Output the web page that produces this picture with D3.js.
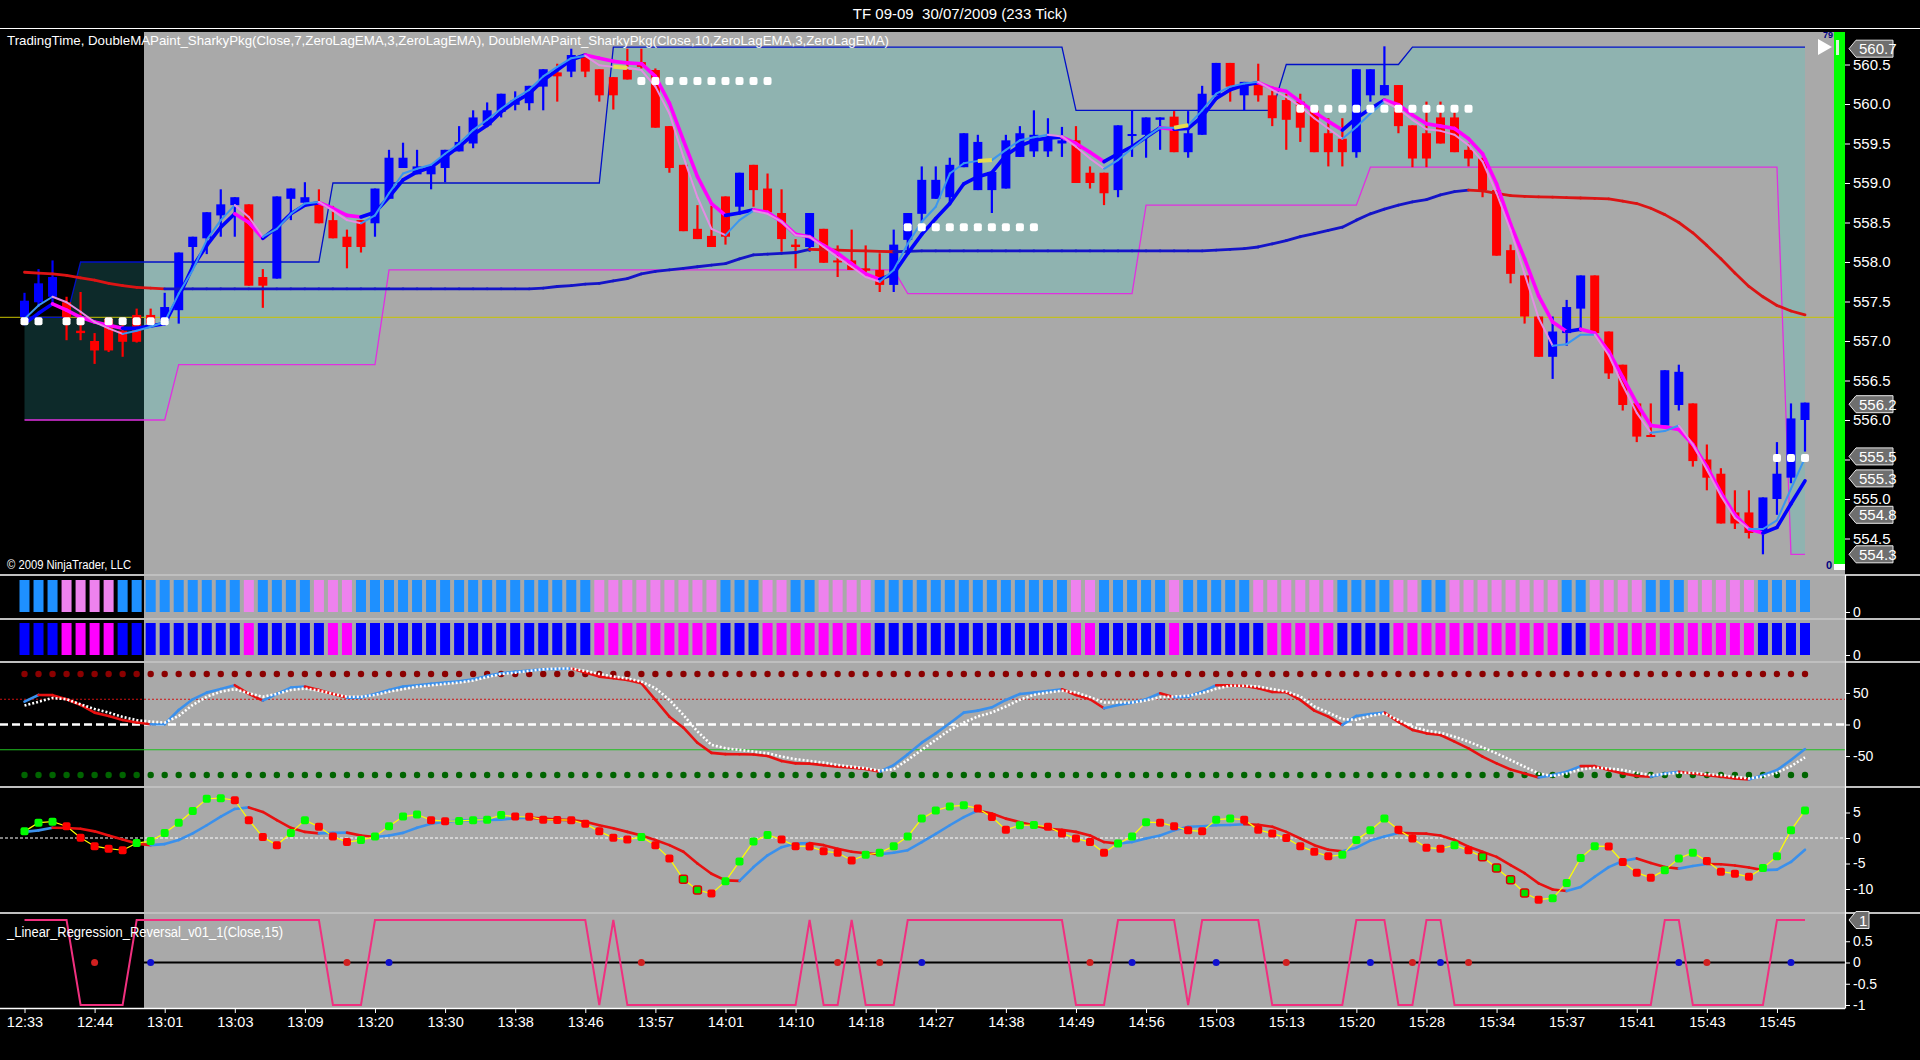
<!DOCTYPE html>
<html>
<head>
<meta charset="utf-8">
<script src="https://cdnjs.cloudflare.com/ajax/libs/d3/7.8.5/d3.min.js"></script>
<style>
  body { margin: 0; background: #000; }
  svg { display: block; font-family: "Liberation Sans", Arial, sans-serif; }
</style>
</head>
<body>
<div id="chart-area"></div>
<script>
// ---- data (bar index 0..127) ----
var timeLabels = ["12:33","12:44","13:01","13:03","13:09","13:20","13:30","13:38","13:46","13:57",
  "14:01","14:10","14:18","14:27","14:38","14:49","14:56","15:03","15:13","15:20",
  "15:28","15:34","15:37","15:41","15:43","15:45"];

var opens = [557.30,557.49,557.56,557.49,557.13,557.00,557.28,557.13,557.33,557.33,
  557.26,557.39,558.19,558.30,558.59,558.72,558.73,557.81,557.79,558.80,
  558.75,558.75,558.53,558.32,558.53,558.49,558.80,559.19,559.11,559.11,
  559.19,559.40,559.50,559.73,559.90,559.99,560.01,560.22,560.40,560.41,
  560.61,560.44,560.34,560.43,560.53,560.43,559.72,559.23,558.42,558.33,
  558.83,558.70,559.23,558.93,558.62,558.22,558.19,558.42,558.02,558.02,
  557.92,557.90,557.71,558.28,558.61,558.80,558.82,559.20,558.91,558.91,
  558.93,559.33,559.40,559.40,559.50,559.54,559.13,559.13,558.91,559.60,
  559.61,559.80,559.84,559.39,559.61,560.11,560.52,560.11,560.26,560.11,
  560.05,560.03,559.92,559.63,559.56,559.39,560.11,560.11,560.24,559.73,
  559.63,559.83,559.83,559.42,559.31,558.91,558.15,557.83,557.31,556.80,
  557.10,557.41,557.83,557.12,556.70,556.21,555.81,555.93,556.19,556.21,
  555.50,555.32,554.83,554.83,554.57,555.00,555.27,556.00];
var highs = [557.61,557.91,558.02,557.56,557.62,557.10,557.30,557.26,557.41,557.41,
  557.61,558.12,558.32,558.63,558.92,558.82,558.73,557.91,558.83,558.93,
  559.01,558.92,558.71,558.41,558.53,558.93,559.42,559.51,559.42,559.21,
  559.42,559.72,559.92,560.02,560.13,560.16,560.23,560.44,560.51,560.70,
  560.64,560.44,560.34,560.70,560.70,560.45,559.72,559.23,558.72,558.71,
  558.83,559.13,559.23,559.12,558.92,558.29,558.62,558.42,558.21,558.41,
  558.21,558.11,558.41,558.62,559.21,559.21,559.32,559.63,559.61,559.14,
  559.61,559.72,559.92,559.82,559.71,559.72,559.21,559.13,559.73,559.92,
  559.83,559.83,559.91,559.91,560.23,560.52,560.52,560.28,560.51,560.22,
  560.13,560.13,559.92,559.82,559.82,560.44,560.44,560.73,560.24,559.73,
  560.03,560.03,559.92,559.50,559.32,558.91,558.22,557.83,557.31,557.31,
  557.52,557.83,557.83,557.12,556.70,556.21,556.21,556.63,556.70,556.21,
  555.69,555.39,555.11,555.11,555.02,555.72,556.21,556.22];
var lows = [557.22,557.43,557.47,557.01,557.01,556.71,556.86,556.80,556.98,557.18,
  557.20,557.22,557.94,558.10,558.32,558.32,557.70,557.42,557.79,558.53,
  558.70,558.49,558.30,557.92,558.12,558.32,558.80,559.19,559.11,558.92,
  559.01,559.40,559.44,559.72,559.83,559.92,559.92,559.92,560.03,560.34,
  560.34,560.03,559.93,560.31,560.45,559.70,559.13,558.39,558.29,558.19,
  558.22,558.63,558.70,558.63,558.13,557.92,558.13,557.99,557.81,557.90,
  557.81,557.62,557.62,558.11,558.51,558.80,558.72,559.20,558.91,558.62,
  558.93,559.33,559.33,559.33,559.33,559.00,558.93,558.72,558.82,559.33,
  559.32,559.42,559.39,559.32,559.61,560.11,560.03,559.92,560.03,559.72,
  559.42,559.52,559.39,559.21,559.21,559.32,560.03,560.11,559.63,559.20,
  559.20,559.50,559.39,559.21,558.82,558.08,557.73,557.22,556.80,556.52,
  556.94,557.12,557.10,556.52,556.12,555.72,555.79,555.93,556.12,555.41,
  555.11,554.69,554.62,554.50,554.30,554.80,555.20,555.60];
var closes = [557.51,557.73,557.81,557.30,557.10,556.88,556.88,556.99,556.99,557.22,
  557.43,558.12,558.32,558.63,558.73,558.82,557.70,557.70,558.83,558.93,
  558.82,558.49,558.30,558.19,558.19,558.93,559.32,559.32,559.21,559.21,
  559.42,559.52,559.83,559.92,560.13,560.05,560.23,560.44,560.35,560.62,
  560.41,560.11,560.11,560.31,560.47,559.70,559.19,558.39,558.29,558.19,
  558.32,559.13,558.91,558.63,558.29,558.19,558.62,557.99,558.00,557.90,
  557.89,557.71,558.22,558.62,559.04,559.04,559.23,559.63,559.52,559.14,
  559.54,559.63,559.61,559.56,559.54,559.00,559.00,558.87,559.73,559.62,
  559.83,559.83,559.39,559.63,560.13,560.52,560.22,560.28,560.11,559.82,
  559.80,559.70,559.39,559.39,559.39,560.44,560.44,560.24,559.72,559.31,
  559.31,559.50,559.39,559.31,558.91,558.08,557.85,557.31,556.80,557.12,
  557.43,557.83,557.10,556.59,556.19,555.79,555.79,556.63,556.61,555.48,
  555.27,554.69,554.69,554.57,555.02,555.32,556.02,556.22];

// DoubleMAPaint (7) thick line and (10) thin line
var ma7 = [557.22,557.35,557.47,557.39,557.30,557.24,557.20,557.16,557.16,557.19,
  557.22,557.56,557.94,558.21,558.44,558.61,558.50,558.30,558.44,558.61,
  558.72,558.75,558.68,558.59,558.57,558.63,558.82,559.04,559.14,559.20,
  559.33,559.46,559.61,559.73,559.90,560.03,560.13,560.30,560.43,560.56,
  560.62,560.58,560.54,560.52,560.51,560.35,560.01,559.54,559.08,558.74,
  558.59,558.62,558.66,558.63,558.51,558.35,558.32,558.21,558.11,557.98,
  557.85,557.78,557.85,558.11,558.35,558.55,558.74,558.99,559.08,559.13,
  559.35,559.47,559.54,559.57,559.58,559.50,559.39,559.27,559.37,559.46,
  559.58,559.70,559.68,559.69,559.84,560.07,560.18,560.24,560.27,560.20,
  560.16,560.03,559.90,559.78,559.67,559.82,559.94,560.05,559.99,559.86,
  559.75,559.72,559.69,559.56,559.37,558.99,558.48,558.04,557.57,557.24,
  557.12,557.15,557.10,556.87,556.54,556.21,555.93,555.91,555.88,555.69,
  555.41,555.08,554.80,554.62,554.57,554.64,554.94,555.23];
var ma10 = [557.28,557.45,557.56,557.49,557.37,557.24,557.16,557.09,557.13,557.18,
  557.24,557.60,557.90,558.28,558.53,558.72,558.57,558.32,558.42,558.61,
  558.74,558.76,558.65,558.53,558.49,558.59,558.87,559.12,559.18,559.23,
  559.37,559.50,559.67,559.80,559.94,560.07,560.18,560.35,560.47,560.58,
  560.61,560.49,560.47,560.46,560.43,560.22,559.88,559.33,558.82,558.42,
  558.34,558.53,558.65,558.61,558.51,558.34,558.32,558.19,558.06,557.94,
  557.81,557.75,557.90,558.23,558.51,558.70,559.12,559.25,559.28,559.29,
  559.42,559.54,559.58,559.61,559.59,559.46,559.31,559.18,559.29,559.44,
  559.58,559.70,559.70,559.73,559.92,560.13,560.22,560.26,560.28,560.18,
  560.09,559.97,559.82,559.69,559.56,559.71,559.88,560.03,559.94,559.80,
  559.68,559.66,559.61,559.48,559.27,558.87,558.40,557.85,557.29,556.94,
  556.96,557.08,557.08,556.82,556.44,556.09,555.84,555.86,555.93,555.69,
  555.37,555.04,554.76,554.62,554.62,554.73,555.13,555.52];
// slow trend average (blue rising / red falling)
var trendMA = [557.87,557.86,557.85,557.83,557.80,557.77,557.73,557.70,557.68,557.67,
  557.66,557.66,557.66,557.66,557.66,557.66,557.66,557.66,557.66,557.66,
  557.66,557.66,557.66,557.66,557.66,557.66,557.66,557.66,557.66,557.66,
  557.66,557.66,557.66,557.66,557.66,557.66,557.66,557.67,557.69,557.70,
  557.72,557.73,557.76,557.79,557.85,557.88,557.90,557.92,557.94,557.96,
  557.98,558.04,558.09,558.10,558.11,558.12,558.16,558.155,558.15,558.145,
  558.14,558.135,558.13,558.135,558.14,558.14,558.14,558.14,558.14,558.14,
  558.14,558.14,558.14,558.14,558.14,558.14,558.14,558.14,558.14,558.14,
  558.14,558.14,558.14,558.14,558.14,558.15,558.16,558.17,558.19,558.23,
  558.27,558.32,558.36,558.40,558.44,558.53,558.61,558.67,558.72,558.76,
  558.79,558.85,558.89,558.91,558.90,558.87,558.84,558.83,558.825,558.82,
  558.815,558.81,558.805,558.80,558.77,558.74,558.68,558.60,558.50,558.37,
  558.21,558.04,557.86,557.69,557.56,557.45,557.38,557.33];
// TradingTime channel: [first bar, level]
var upperSteps = [[0, 557.3], [4, 558.0], [22, 559.0], [42, 560.72], [75, 559.92], [90, 560.5], [99, 560.72]];
var lowerSteps = [[0, 556.0], [11, 556.7], [26, 557.9], [63, 557.6], [80, 558.72], [96, 559.2], [126, 554.3]];
var signalDots = [[0,557.25],[1,557.25],[3,557.25],[4,557.25],[6,557.25],[7,557.25],[8,557.25],[9,557.25],[10,557.25],
  [44,560.29],[45,560.29],[46,560.29],[47,560.29],[48,560.29],[49,560.29],[50,560.29],[51,560.29],[52,560.29],[53,560.29],
  [63,558.44],[64,558.44],[65,558.44],[66,558.44],[67,558.44],[68,558.44],[69,558.44],[70,558.44],[71,558.44],[72,558.44],
  [91,559.94],[92,559.94],[93,559.94],[94,559.94],[95,559.94],[96,559.94],[97,559.94],[98,559.94],[99,559.94],[100,559.94],
  [101,559.94],[102,559.94],[103,559.94],[125,555.52],[126,555.52],[127,555.52]];
var flatMarks = [42, 68, 82];
var priceMarkers = [560.7, 556.2, 555.5, 555.3, 554.8, 554.3];
var priceTicks = [554.5, 555.0, 555.5, 556.0, 556.5, 557.0, 557.5, 558.0, 558.5, 559.0, 559.5, 560.0, 560.5];
var refLevel = 557.3;

// paint panels: 1 = rising colour, 0 = falling colour
var paint10 = [1,1,1,0,0,0,0,1,1,1, 1,1,1,1,1,1,0,1,1,1, 1,0,0,0,1,1,1,1,1,1, 1,1,1,1,1,1,1,1,1,1,
  1,0,0,0,0,0,0,0,0,0, 1,1,1,0,0,1,1,0,0,0, 0,1,1,1,1,1,1,1,1,1, 1,1,1,1,1,0,0,1,1,1,
  1,1,0,1,1,1,1,1,0,0, 0,0,0,0,1,1,1,1,0,0, 1,1,0,0,0,0,0,0,0,0, 1,1,0,0,0,0,1,1,1,0,
  0,0,0,0,1,1,1,1];
var paint7 = [1,1,1,0,0,0,0,1,1,1, 1,1,1,1,1,1,0,1,1,1, 1,1,0,0,1,1,1,1,1,1, 1,1,1,1,1,1,1,1,1,1,
  1,0,0,0,0,0,0,0,0,0, 1,1,1,0,0,0,0,0,0,0, 0,1,1,1,1,1,1,1,1,1, 1,1,1,1,1,0,0,1,1,1,
  1,1,0,1,1,1,1,1,1,0, 0,0,0,0,1,1,1,1,0,0, 0,0,0,0,0,0,0,0,0,0, 1,1,0,0,0,0,0,0,0,0,
  0,0,0,0,1,1,1,1];

// oscillator panel (+/-80 dots)
var osc = [36.2,46.8,46.5,39.9,31.0,18.8,13.5,7.1,3.4,0.3, 0.5,23.0,39.9,50.5,56.3,62.2,48.4,37.8,48.4,58.5,
  60.0,54.8,48.4,42.6,43.0,48.4,54.8,60.0,62.2,64.3, 66.4,68.5,71.7,77.0,81.2,83.3,85.4,87.5,88.0,88.6,
  82.2,75.9,73.3,70.6,65.3,38.9,12.4,-5.0,-29.0,-45.0, -47.0,-47.2,-47.5,-50.0,-57.9,-61.6,-62.0,-64.3,-67.0,-68.5,
  -70.6,-74.9,-64.3,-47.3,-28.8,-14.0,1.9,18.8,22.0,27.2, 38.9,48.4,50.5,53.2,55.8,46.8,40.0,25.7,31.0,34.7,
  40.0,49.5,43.1,44.2,52.1,62.2,62.0,61.0,57.4,51.6, 51.0,38.9,22.0,12.5,-0.7,13.6,16.7,18.8,4.0,-8.7,
  -14.0,-16.7,-27.2,-37.8,-51.0,-61.6,-71.2,-77.5,-83.9,-80.2, -74.9,-65.9,-66.0,-72.2,-77.5,-81.7,-82.8,-77.5,-74.9,-77.5,
  -80.2,-82.8,-85.4,-87.0,-80.2,-72.2,-56.3,-38.9];
var oscSignal = [30,36,42,40,32,24.5,19,12,7,4.5, 3,13.5,31,44,52,56,49.5,44,48.4,54.8,
  57,53.7,48.4,44,44,46.8,52,56,60,62, 64.3,66.4,69.6,75,80,82,85,87.5,88.6,88.6,
  85,80,76,73,68,57.6,39,15,-11,-32.3, -37.6,-40.2,-42.9,-45.5,-50.8,-55,-57.7,-60.3,-64,-66.7,
  -69.3,-73,-70.9,-56,-40.2,-24.3,-8.5,3.2,12.7,19, 28.6,39.2,47.1,50.8,53.4,50.8,43.4,34.9,34.9,34.9,
  38,43.4,44.4,45.5,49.7,56.6,61.4,61.4,60.3,56, 52.4,44.4,28.6,19,8.5,7.4,13.7,17.3,7.1,-3.4,
  -9.8,-13,-19.3,-27.2,-36.2,-45.8,-56.3,-66.9,-77.5,-81.7, -77.5,-71.2,-68.5,-69.6,-72.2,-76.4,-80.2,-78.5,-76.4,-76.4,
  -78.5,-80.2,-82.8,-85.4,-82.8,-76.4,-65.9,-52.1];
var oscTicks = [50, 0, -50];

// momentum panel
var mom = [1.3,3.0,3.2,2.3,0.05,-1.6,-2.1,-2.4,-1.0,-0.6, 1.0,3.0,5.3,7.7,7.8,7.4,3.5,0.2,-1.4,1.0,
  3.5,2.2,0.3,-0.8,-0.4,0.3,2.3,4.2,4.6,3.5, 3.3,3.35,3.5,3.6,4.5,4.2,4.15,3.6,3.55,3.5,
  2.8,1.3,0.05,-0.3,0.2,-1.4,-4.0,-8.1,-10.2,-10.9, -8.5,-4.6,-0.7,0.6,-0.3,-1.6,-1.65,-2.6,-2.9,-4.4,
  -3.3,-2.9,-1.6,0.3,3.8,5.4,6.2,6.4,5.8,4.1, 1.6,2.5,2.55,2.2,0.9,-0.1,-0.8,-2.9,-1.1,0.3,
  3.1,3.0,2.3,1.5,1.3,3.6,3.8,3.6,1.6,0.9, 0.0,-1.6,-2.7,-3.6,-3.3,-0.4,1.5,3.8,1.6,-0.1,
  -1.9,-2.1,-1.4,-2.4,-3.7,-5.9,-8.2,-10.8,-12.1,-11.8, -8.8,-3.9,-1.6,-1.65,-4.7,-6.8,-7.8,-6.3,-4.0,-2.9,
  -4.5,-6.6,-7.0,-7.6,-5.9,-3.6,1.5,5.4];
var momAvg = [1.2,1.5,2.0,1.95,1.8,1.3,0.5,-0.3,-1.1,-1.4, -1.2,-0.4,0.9,2.5,4.2,5.7,6.0,5.1,3.5,2.0,
  1.2,0.9,1.0,1.05,0.5,0.2,0.5,1.0,2.0,2.8, 3.2,3.4,3.5,3.55,3.6,3.9,4.0,3.8,3.6,3.5,
  3.2,2.5,1.9,1.2,0.5,-0.4,-1.4,-2.7,-5.0,-7.0, -8.3,-8.4,-5.7,-3.4,-1.8,-1.1,-1.0,-1.4,-2.1,-2.7,
  -3.0,-3.2,-2.9,-2.4,-0.8,0.8,2.5,4.1,5.4,4.8, 3.8,3.1,2.5,1.8,1.6,1.2,0.5,-0.8,-1.1,-0.8,
  -0.1,0.5,1.5,2.2,2.3,2.5,2.55,2.7,2.6,2.2, 1.2,-0.1,-1.4,-2.3,-2.6,-1.9,-0.5,0.3,1.0,0.9,
  0.85,0.5,-0.4,-1.7,-2.7,-3.7,-5.3,-6.9,-8.9,-10.1, -10.4,-9.6,-7.6,-5.7,-4.5,-4.0,-4.9,-5.7,-6.0,-5.5,
  -5.1,-5.15,-5.4,-5.8,-6.3,-6.2,-4.7,-2.3];
var outlinedMarks = [47, 48, 104, 105, 106, 107];
var momTicks = [5, 0, -5, -10];

// linear regression reversal
var lrr = [1,1,1,1,-1,-1,-1,-1,1,1, 1,1,1,1,1,1,1,1,1,1, 1,1,-1,-1,-1,1,1,1,1,1, 1,1,1,1,1,1,1,1,1,1,
  1,-1,1,-1,-1,-1,-1,-1,-1,-1, -1,-1,-1,-1,-1,-1,1,-1,-1,1, -1,-1,-1,1,1,1,1,1,1,1, 1,1,1,1,1,-1,-1,-1,1,1,
  1,1,1,-1,1,1,1,1,1,-1, -1,-1,-1,-1,-1,1,1,1,-1,-1, 1,1,-1,-1,-1,-1,-1,-1,-1,-1, -1,-1,-1,-1,-1,-1,-1,1,1,-1,
  -1,-1,-1,-1,-1,1,1,1];
var lrrRedDots = [5, 23, 44, 58, 61, 76, 90, 99, 103, 120];
var lrrBlueDots = [9, 26, 64, 79, 85, 96, 101, 118, 126];
var lrrTicks = [0.5, 0, -0.5, -1];

// ---- layout ----
var bars = d3.range(opens.length);
var sessionX = 144, plotR = 1845;
var x = d3.scaleLinear().domain([0, 127]).range([24.5, 1805]);
var yPrice = d3.scaleLinear().domain([554.5, 560.5]).range([538.5, 64.5]);
var yPaint10 = d3.scaleLinear().domain([0, 1]).range([612, 580]);
var yPaint7 = d3.scaleLinear().domain([0, 1]).range([655, 623]);
var yOsc = d3.scaleLinear().domain([-80, 80]).range([775, 674]);
var yMom = d3.scaleLinear().domain([-10, 5]).range([889, 812.5]);
var yLrr = d3.scaleLinear().domain([-1, 1]).range([1005, 920]);

function stepAt(steps, i) {
  var v = steps[0][1];
  steps.forEach(function(s) { if (i >= s[0]) v = s[1]; });
  return v;
}
var upper = bars.map(function(i) { return stepAt(upperSteps, i); });
var lower = bars.map(function(i) { return stepAt(lowerSteps, i); });

var svg = d3.select("#chart-area").append("svg")
  .attr("width", 1920)
  .attr("height", 1060);

svg.append("rect").attr("width", 1920).attr("height", 1060).attr("fill", "#000");

var panels = [[32, 574], [576, 618], [620, 661], [663, 786], [788, 912], [914, 1008]];
panels.forEach(function(p) {
  svg.append("rect")
    .attr("x", sessionX).attr("y", p[0])
    .attr("width", plotR - sessionX).attr("height", p[1] - p[0])
    .attr("fill", "#a9a9a9");
});

var defs = svg.append("defs");
defs.append("clipPath").attr("id", "clipMain").append("rect")
  .attr("x", 0).attr("y", 32).attr("width", plotR).attr("height", 542);
defs.append("clipPath").attr("id", "clipDark").append("rect")
  .attr("x", 0).attr("y", 32).attr("width", sessionX).attr("height", 542);
defs.append("clipPath").attr("id", "clipLight").append("rect")
  .attr("x", sessionX).attr("y", 32).attr("width", plotR - sessionX).attr("height", 542);

// ---- main price panel ----
var band = d3.area()
  .x(function(i) { return x(i); })
  .y0(function(i) { return yPrice(lower[i]); })
  .y1(function(i) { return yPrice(upper[i]); });
svg.append("path").datum(bars).attr("d", band).attr("fill", "#0d2a2a").attr("clip-path", "url(#clipDark)");
svg.append("path").datum(bars).attr("d", band).attr("fill", "#8fb3b0").attr("clip-path", "url(#clipLight)");

var main = svg.append("g").attr("clip-path", "url(#clipMain)");

main.append("line")
  .attr("x1", 0).attr("x2", plotR)
  .attr("y1", yPrice(refLevel)).attr("y2", yPrice(refLevel))
  .attr("stroke", "#c8c400").attr("stroke-width", 1);

var stepLine = function(arr) {
  return d3.line().x(function(i) { return x(i); }).y(function(i) { return yPrice(arr[i]); });
};
main.append("path").datum(bars).attr("d", stepLine(upper))
  .attr("fill", "none").attr("stroke", "#0010c8").attr("stroke-width", 1.3);
main.append("path").datum(bars).attr("d", stepLine(lower))
  .attr("fill", "none").attr("stroke", "#e030e0").attr("stroke-width", 1.3);

// candles
main.selectAll(".wick").data(bars).enter()
  .append("line")
    .attr("x1", function(i) { return x(i); })
    .attr("x2", function(i) { return x(i); })
    .attr("y1", function(i) { return yPrice(highs[i]); })
    .attr("y2", function(i) { return yPrice(lows[i]); })
    .attr("stroke", function(i) { return closes[i] >= opens[i] ? "#0000ff" : "#ff0000"; })
    .attr("stroke-width", 2.2);
main.selectAll(".body").data(bars).enter()
  .append("rect")
    .attr("x", function(i) { return x(i) - 4.5; })
    .attr("width", 9)
    .attr("y", function(i) { return yPrice(Math.max(opens[i], closes[i])); })
    .attr("height", function(i) { return Math.max(2, Math.abs(yPrice(opens[i]) - yPrice(closes[i]))); })
    .attr("fill", function(i) { return closes[i] >= opens[i] ? "#0000ff" : "#ff0000"; });

function segments(g, values, yScale, upColor, downColor, width) {
  g.selectAll(null).data(d3.range(1, values.length)).enter()
    .append("line")
      .attr("x1", function(i) { return x(i - 1); })
      .attr("x2", function(i) { return x(i); })
      .attr("y1", function(i) { return yScale(values[i - 1]); })
      .attr("y2", function(i) { return yScale(values[i]); })
      .attr("stroke", function(i) { return values[i] < values[i - 1] ? downColor : upColor; })
      .attr("stroke-width", width)
      .attr("stroke-linecap", "round");
}

segments(main, trendMA, yPrice, "#1414c8", "#dc1414", 2.8);
segments(main, ma7, yPrice, "#0000ff", "#ff00ff", 3.6);
segments(main, ma10, yPrice, "#3a96f0", "#e48ce4", 2);

main.selectAll(".flat").data(flatMarks).enter()
  .append("line")
    .attr("x1", function(i) { return x(i); })
    .attr("x2", function(i) { return x(i + 1); })
    .attr("y1", function(i) { return yPrice(ma10[i]); })
    .attr("y2", function(i) { return yPrice(ma10[i + 1]); })
    .attr("stroke", "#e6dc50")
    .attr("stroke-width", 4);

main.selectAll(".sig").data(signalDots).enter()
  .append("rect")
    .attr("x", function(d) { return x(d[0]) - 4; })
    .attr("y", function(d) { return yPrice(d[1]) - 4; })
    .attr("width", 8).attr("height", 8).attr("rx", 2)
    .attr("fill", "#ffffff");

// right-side markers inside plot
svg.append("rect").attr("x", 1834).attr("y", 32).attr("width", 11).attr("height", 532).attr("fill", "#00ff00");
svg.append("rect").attr("x", 1834).attr("y", 564).attr("width", 11).attr("height", 6).attr("fill", "#ffffff");
svg.append("rect").attr("x", 1836).attr("y", 40).attr("width", 3).attr("height", 15).attr("fill", "#d8f8d8");
svg.append("path").attr("d", "M1818,39 L1832,47 L1818,55 Z").attr("fill", "#ffffff");
svg.append("text").attr("x", 1823).attr("y", 38).text("79")
  .attr("fill", "#000080").style("font-size", "9px").style("font-weight", "bold");
svg.append("text").attr("x", 1826).attr("y", 569).text("0")
  .attr("fill", "#000080").style("font-size", "11px").style("font-weight", "bold");

// ---- paint panels ----
svg.selectAll(".p10").data(bars).enter()
  .append("rect")
    .attr("x", function(i) { return x(i) - 5; })
    .attr("width", 10)
    .attr("y", yPaint10(1))
    .attr("height", yPaint10(0) - yPaint10(1))
    .attr("fill", function(i) { return paint10[i] ? "#1e90ff" : "#ee82ee"; });
svg.selectAll(".p7").data(bars).enter()
  .append("rect")
    .attr("x", function(i) { return x(i) - 5; })
    .attr("width", 10)
    .attr("y", yPaint7(1))
    .attr("height", yPaint7(0) - yPaint7(1))
    .attr("fill", function(i) { return paint7[i] ? "#0000ff" : "#ff00ff"; });

// ---- oscillator panel ----
var oscG = svg.append("g");
oscG.append("line").attr("x1", 0).attr("x2", plotR).attr("y1", yOsc(40)).attr("y2", yOsc(40))
  .attr("stroke", "#d01010").attr("stroke-width", 1).attr("stroke-dasharray", "2,2");
oscG.append("line").attr("x1", 0).attr("x2", plotR).attr("y1", yOsc(-40)).attr("y2", yOsc(-40))
  .attr("stroke", "#20c020").attr("stroke-width", 1);
oscG.append("line").attr("x1", 0).attr("x2", plotR).attr("y1", yOsc(0)).attr("y2", yOsc(0))
  .attr("stroke", "#ffffff").attr("stroke-width", 2.4).attr("stroke-dasharray", "8,4");
oscG.selectAll(".hiDot").data(bars).enter()
  .append("circle")
    .attr("cx", function(i) { return x(i); }).attr("cy", yOsc(80)).attr("r", 3.2)
    .attr("fill", "#8b0000");
oscG.selectAll(".loDot").data(bars).enter()
  .append("circle")
    .attr("cx", function(i) { return x(i); }).attr("cy", yOsc(-80)).attr("r", 3.2)
    .attr("fill", "#006400");
segments(oscG, osc, yOsc, "#3a90ec", "#e81010", 2.6);
oscG.append("path").datum(bars)
  .attr("d", d3.line().x(function(i) { return x(i); }).y(function(i) { return yOsc(oscSignal[i]); }))
  .attr("fill", "none").attr("stroke", "#ffffff").attr("stroke-width", 2.6).attr("stroke-dasharray", "2,2");

// ---- momentum panel ----
var momG = svg.append("g");
momG.append("line").attr("x1", 0).attr("x2", plotR).attr("y1", yMom(0)).attr("y2", yMom(0))
  .attr("stroke", "#ffffff").attr("stroke-width", 1.2).attr("stroke-dasharray", "3,2");
segments(momG, momAvg, yMom, "#3a90ec", "#e81010", 2.6);
momG.append("path").datum(bars)
  .attr("d", d3.line().x(function(i) { return x(i); }).y(function(i) { return yMom(mom[i]); }))
  .attr("fill", "none").attr("stroke", "#ffff00").attr("stroke-width", 1.2);
momG.selectAll(".mk").data(bars).enter()
  .append("rect")
    .attr("x", function(i) { return x(i) - 4; })
    .attr("y", function(i) { return yMom(mom[i]) - 4; })
    .attr("width", 8).attr("height", 8).attr("rx", 2)
    .attr("fill", function(i) {
      if (outlinedMarks.indexOf(i) >= 0) return "#00e000";
      return (i === 0 || mom[i] >= mom[i - 1]) ? "#00ff00" : "#ff0000";
    })
    .attr("stroke", function(i) { return outlinedMarks.indexOf(i) >= 0 ? "#e00000" : "none"; })
    .attr("stroke-width", 1.5);

// ---- linear regression reversal panel ----
var lrG = svg.append("g");
lrG.append("line").attr("x1", 0).attr("x2", plotR).attr("y1", yLrr(0)).attr("y2", yLrr(0))
  .attr("stroke", "#000000").attr("stroke-width", 2.2);
lrG.append("path").datum(bars)
  .attr("d", d3.line().x(function(i) { return x(i); }).y(function(i) { return yLrr(lrr[i]); }))
  .attr("fill", "none").attr("stroke", "#f0307f").attr("stroke-width", 2);
lrG.selectAll(".rd").data(lrrRedDots).enter()
  .append("circle")
    .attr("cx", function(i) { return x(i); }).attr("cy", yLrr(0)).attr("r", 3.5)
    .attr("fill", "#d02020");
lrG.selectAll(".bd").data(lrrBlueDots).enter()
  .append("circle")
    .attr("cx", function(i) { return x(i); }).attr("cy", yLrr(0)).attr("r", 3.5)
    .attr("fill", "#1010d0");

// ---- frame lines ----
svg.append("line").attr("x1", 0).attr("x2", 1920).attr("y1", 28.5).attr("y2", 28.5).attr("stroke", "#ffffff");
[575, 619, 662, 787, 913].forEach(function(y) {
  svg.append("line").attr("x1", 0).attr("x2", 1920).attr("y1", y).attr("y2", y)
    .attr("stroke", "#ffffff").attr("stroke-width", 1.5);
});
svg.append("line").attr("x1", 0).attr("x2", plotR).attr("y1", 1008.5).attr("y2", 1008.5)
  .attr("stroke", "#ffffff").attr("stroke-width", 1.5);
svg.append("line").attr("x1", plotR + 0.5).attr("x2", plotR + 0.5).attr("y1", 575).attr("y2", 1008.5)
  .attr("stroke", "#ffffff").attr("stroke-width", 1.2);

// ---- axes ----
function styleAxis(g, size) {
  g.select(".domain").remove();
  g.attr("font-family", null).attr("font-size", size);
  g.selectAll(".tick line").attr("stroke", "#ffffff");
  g.selectAll(".tick text").attr("fill", "#ffffff");
}
var plain = function(d) { return String(d); };
var right = "translate(" + plotR + ",0)";

// spread price boxes apart where they would overlap
var boxes = priceMarkers.map(function(v) { return { v: v, y: yPrice(v) }; })
  .sort(function(a, b) { return a.y - b.y; });
for (var pass = 0; pass < 4; pass++) {
  for (var k = 1; k < boxes.length; k++) {
    var gap = boxes[k].y - boxes[k - 1].y;
    if (gap < 22) {
      boxes[k - 1].y -= (22 - gap) / 2;
      boxes[k].y += (22 - gap) / 2;
    }
  }
}

var priceAxis = svg.append("g").attr("transform", right)
  .call(d3.axisRight(yPrice).tickValues(priceTicks).tickFormat(d3.format(".1f")).tickSize(5).tickPadding(3))
  .call(styleAxis, 15);
// tick labels sitting under a marker box are hidden by it in the original
priceAxis.selectAll(".tick text").filter(function(d) {
  return boxes.some(function(b) { return Math.abs(b.y - yPrice(d)) < 9; });
}).remove();

svg.append("g").attr("transform", right)
  .call(d3.axisRight(yPaint10).tickValues([0]).tickFormat(plain).tickSize(5).tickPadding(3)).call(styleAxis, 14);
svg.append("g").attr("transform", right)
  .call(d3.axisRight(yPaint7).tickValues([0]).tickFormat(plain).tickSize(5).tickPadding(3)).call(styleAxis, 14);
svg.append("g").attr("transform", right)
  .call(d3.axisRight(yOsc).tickValues(oscTicks).tickFormat(plain).tickSize(5).tickPadding(3)).call(styleAxis, 14);
svg.append("g").attr("transform", right)
  .call(d3.axisRight(yMom).tickValues(momTicks).tickFormat(plain).tickSize(5).tickPadding(3)).call(styleAxis, 14);
svg.append("g").attr("transform", right)
  .call(d3.axisRight(yLrr).tickValues(lrrTicks).tickFormat(plain).tickSize(5).tickPadding(3)).call(styleAxis, 14);

svg.append("g").attr("transform", "translate(0,1008)")
  .call(d3.axisBottom(x).tickValues(d3.range(0, 126, 5))
    .tickFormat(function(d, i) { return timeLabels[i]; })
    .tickSize(5).tickPadding(4))
  .call(styleAxis, 14.5);

function markerBox(y, label, w) {
  var g = svg.append("g");
  g.append("path")
    .attr("d", "M" + (plotR + 4) + "," + y + " L" + (plotR + 11) + "," + (y - 8.5) +
      " L" + (plotR + 11 + w) + "," + (y - 8.5) + " L" + (plotR + 11 + w) + "," + (y + 8.5) +
      " L" + (plotR + 11) + "," + (y + 8.5) + " Z")
    .attr("fill", "#6e6e6e").attr("stroke", "#e8e8e8").attr("stroke-width", 1);
  g.append("text").attr("x", plotR + 14).attr("y", y + 5.5).text(label)
    .attr("fill", "#ffffff").style("font-size", "15px");
}
boxes.forEach(function(b) { markerBox(b.y, d3.format(".1f")(b.v), 37); });
markerBox(yLrr(1), "1", 13);

// ---- texts ----
svg.append("text").attr("x", 960).attr("y", 19).attr("text-anchor", "middle")
  .style("white-space", "pre").style("font-size", "15px").attr("fill", "#ffffff")
  .text("TF 09-09  30/07/2009 (233 Tick)");
svg.append("text").attr("x", 7).attr("y", 45).attr("fill", "#ffffff")
  .style("font-size", "13.5px").attr("textLength", 882).attr("lengthAdjust", "spacingAndGlyphs")
  .text("TradingTime, DoubleMAPaint_SharkyPkg(Close,7,ZeroLagEMA,3,ZeroLagEMA), DoubleMAPaint_SharkyPkg(Close,10,ZeroLagEMA,3,ZeroLagEMA)");
svg.append("text").attr("x", 7).attr("y", 569).attr("fill", "#ffffff")
  .style("font-size", "12px").attr("textLength", 124).attr("lengthAdjust", "spacingAndGlyphs")
  .text("\u00a9 2009 NinjaTrader, LLC");
svg.append("text").attr("x", 7).attr("y", 937).attr("fill", "#ffffff")
  .style("font-size", "14px").attr("textLength", 276).attr("lengthAdjust", "spacingAndGlyphs")
  .text("_Linear_Regression_Reversal_v01_1(Close,15)");
</script>
</body>
</html>
